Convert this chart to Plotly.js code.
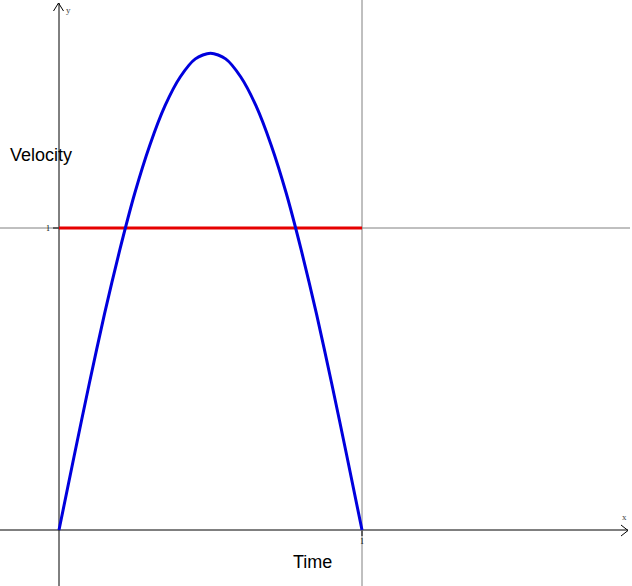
<!DOCTYPE html>
<html>
<head>
<meta charset="utf-8">
<script src="https://cdn.plot.ly/plotly-3.0.1.min.js"></script>
<style>html,body{margin:0;padding:0;background:#fff;}#chart{width:632px;height:586px;}</style>
</head>
<body>
<div id="chart"></div>
<script>
// Velocity curve
const timeValues = [0, 0.05, 0.10, 0.15, 0.20, 0.25, 0.30, 0.35, 0.40, 0.45, 0.50, 0.55, 0.60, 0.65, 0.70, 0.75, 0.80, 0.85, 0.90, 0.95, 1];
const velocityValues = [0, 0.245, 0.485, 0.715, 0.925, 1.115, 1.275, 1.405, 1.50, 1.56, 1.579, 1.56, 1.50, 1.405, 1.275, 1.115, 0.925, 0.715, 0.485, 0.245, 0];
// Constant line
const constTime = [0, 1];
const constValue = [1, 1];
const tickLabels = ["1"];

const W = 632, H = 586;
const px = x => x / W;          // pixel -> paper x
const py = y => 1 - y / H;      // pixel -> paper y

const traces = [
  {x: constTime, y: constValue, mode: 'lines', line: {color: '#e60000', width: 3}, hoverinfo: 'skip'},
  {x: timeValues, y: velocityValues, mode: 'lines', line: {color: '#0000dd', width: 3, shape: 'spline', smoothing: 0.8}, hoverinfo: 'skip'}
];

const shapes = [
  // grey reference lines at x=1, y=1
  {type: 'line', xref: 'x', yref: 'paper', x0: 1, x1: 1, y0: 0, y1: 1, line: {color: '#808080', width: 1}, layer: 'below'},
  {type: 'line', xref: 'paper', yref: 'y', x0: 0, x1: px(630), y0: 1, y1: 1, line: {color: '#808080', width: 1}, layer: 'below'},
  // x axis with arrow
  {type: 'line', xref: 'paper', yref: 'y', x0: 0, x1: px(628), y0: 0, y1: 0, line: {color: '#000', width: 1}, layer: 'below'},
  {type: 'path', xref: 'paper', yref: 'paper', path: `M ${px(621)} ${py(525)} L ${px(628)} ${py(530.5)} L ${px(621)} ${py(536)}`, line: {color: '#000', width: 1}},
  // y axis with arrow
  {type: 'line', xref: 'x', yref: 'paper', x0: 0, x1: 0, y0: 0, y1: py(3), line: {color: '#000', width: 1}, layer: 'below'},
  {type: 'path', xref: 'paper', yref: 'paper', path: `M ${px(53.5)} ${py(11)} L ${px(58.5)} ${py(3)} L ${px(63.5)} ${py(11)}`, line: {color: '#000', width: 1}},
  // small ticks
  {type: 'line', xref: 'paper', yref: 'y', x0: px(53), x1: px(58.5), y0: 1, y1: 1, line: {color: '#000', width: 1}},
  {type: 'line', xref: 'x', yref: 'paper', x0: 1, x1: 1, y0: py(531), y1: py(536), line: {color: '#000', width: 1}}
];

const annotations = [
  {text: 'Velocity', xref: 'paper', yref: 'paper', x: px(8), y: py(155), xanchor: 'left', yanchor: 'middle', showarrow: false, font: {family: 'Liberation Sans, Arial, sans-serif', size: 18, color: '#000'}},
  {text: 'Time', xref: 'paper', yref: 'paper', x: px(312), y: py(562), xanchor: 'center', yanchor: 'middle', showarrow: false, font: {family: 'Liberation Sans, Arial, sans-serif', size: 18, color: '#000'}},
  {text: tickLabels[0], xref: 'paper', yref: 'y', x: px(48), y: 1, xanchor: 'center', yanchor: 'middle', showarrow: false, font: {family: 'Liberation Serif, serif', size: 8, color: '#000'}},
  {text: tickLabels[0], xref: 'x', yref: 'paper', x: 1, y: py(541), xanchor: 'center', yanchor: 'middle', showarrow: false, font: {family: 'Liberation Serif, serif', size: 8, color: '#000'}},
  {text: 'y', xref: 'paper', yref: 'paper', x: px(68), y: py(10), xanchor: 'center', yanchor: 'middle', showarrow: false, font: {family: 'Liberation Serif, serif', size: 9, color: '#444'}},
  {text: 'x', xref: 'paper', yref: 'paper', x: px(624), y: py(517), xanchor: 'center', yanchor: 'middle', showarrow: false, font: {family: 'Liberation Serif, serif', size: 9, color: '#444'}}
];

const layout = {
  width: W, height: H,
  margin: {l: 0, r: 0, t: 0, b: 0, pad: 0},
  paper_bgcolor: '#fff', plot_bgcolor: '#fff',
  showlegend: false,
  xaxis: {range: [-59/303, (632-59)/303], visible: false, fixedrange: true},
  yaxis: {range: [(530-586)/302, 530/302], visible: false, fixedrange: true},
  shapes: shapes,
  annotations: annotations
};

Plotly.newPlot('chart', traces, layout, {staticPlot: true, displayModeBar: false});
</script>
</body>
</html>
